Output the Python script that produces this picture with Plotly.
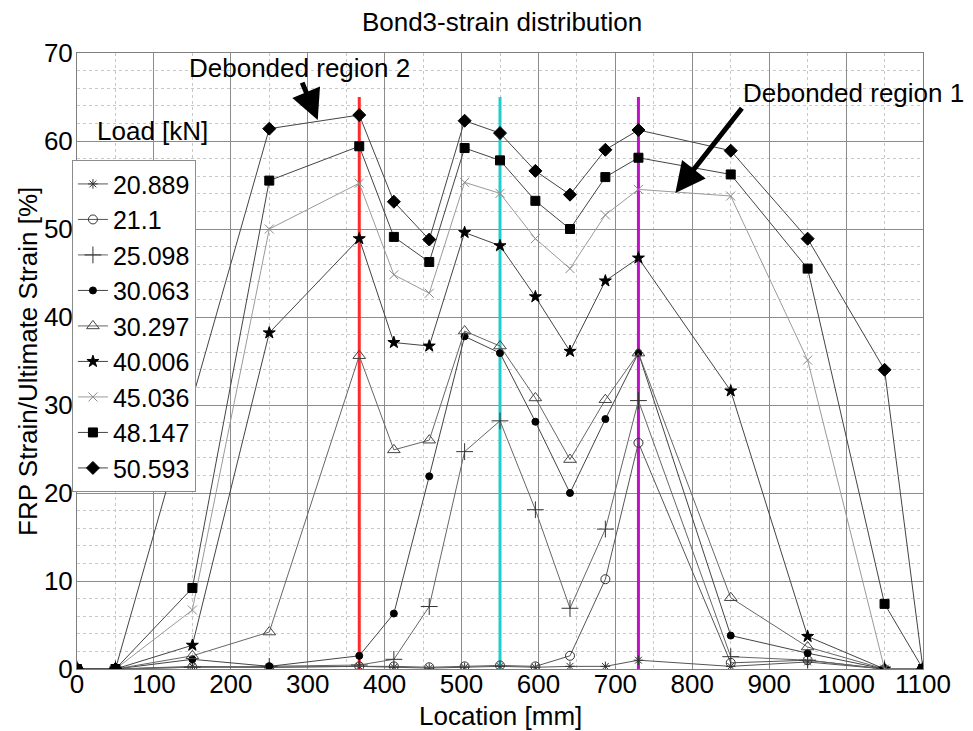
import plotly.graph_objects as go

# ---- data ----
location = [0, 50, 150, 250, 367, 412, 458, 504, 550, 596, 641, 687, 730, 850, 950, 1050, 1100]

load_labels = ["20.889", "21.1", "25.098", "30.063", "30.297", "40.006", "45.036", "48.147", "50.593"]

s_20889 = [0, 0, 0.3, 0.2, 0.3, 0.2, 0.1, 0.2, 0.3, 0.2, 0.3, 0.3, 1.0, 0.3, 0.8, 0, 0]
s_21_1 = [0, 0, 0.2, 0.2, 0.3, 0.3, 0.2, 0.3, 0.4, 0.3, 1.5, 10.2, 25.7, 0.7, 1.0, 0, 0]
s_25098 = [0, 0, 0.2, 0.3, 0.45, 1.1, 7.1, 24.7, 28.2, 18.1, 6.9, 15.9, 30.5, 1.4, 1.0, 0, 0]
s_30063 = [0, 0, 1.1, 0.3, 1.5, 6.3, 21.9, 37.8, 35.9, 28.1, 20.0, 28.4, 35.9, 3.8, 1.8, 0, 0]
s_30297 = [0, 0, 1.5, 4.2, 35.6, 24.9, 26.0, 38.4, 36.7, 30.8, 23.8, 30.6, 35.9, 8.1, 2.5, 0, 0]
s_40006 = [0, 0, 2.7, 38.2, 48.9, 37.1, 36.7, 49.6, 48.1, 42.3, 36.1, 44.1, 46.7, 31.6, 3.7, 0, 0]
s_45036 = [0, 0, 6.7, 50.0, 55.2, 44.8, 42.7, 55.3, 54.05, 48.9, 45.5, 51.6, 54.5, 53.75, 35.1, 0, 0]
s_48147 = [0, 0, 9.2, 55.5, 59.4, 49.1, 46.25, 59.2, 57.8, 53.2, 50.0, 55.9, 58.1, 56.2, 45.5, 7.4, 0]
s_50593 = [0, 0, None, 61.4, 62.95, 53.1, 48.8, 62.3, 60.9, 56.6, 53.9, 59.0, 61.25, 58.9, 48.9, 34.0, 0]

series_values = [s_20889, s_21_1, s_25098, s_30063, s_30297, s_40006, s_45036, s_48147, s_50593]

# marker lines (gauge positions)
marker_line_x = [367, 550, 730]
marker_line_colors = ["#ff2a2a", "#22cccc", "#c010c8"]
marker_line_range = [0, 65]

# ---- styles ----
symbols = ["asterisk-open", "circle-open", "cross-thin-open", "circle", "triangle-up-open",
           "star", "x-thin-open", "square", "diamond"]
sizes = [8, 9, 12, 7, 11, 9, 9, 9, 10]
line_colors = ["#555555", "#555555", "#666666", "#444444", "#666666",
               "#444444", "#9a9a9a", "#444444", "#444444"]
marker_colors = ["#333333", "#333333", "#333333", "#000000", "#444444",
                 "#000000", "#8a8a8a", "#000000", "#000000"]

FONT = "Liberation Sans, Arial, sans-serif"

fig = go.Figure()

for xv, col in zip(marker_line_x, marker_line_colors):
    fig.add_trace(go.Scatter(x=[xv, xv], y=marker_line_range, mode="lines",
                             line=dict(color=col, width=3), showlegend=False,
                             hoverinfo="skip"))

for name, vals, sym, sz, lc, mc in zip(load_labels, series_values, symbols, sizes,
                                        line_colors, marker_colors):
    fig.add_trace(go.Scatter(
        x=location, y=vals, name=name, mode="lines+markers", connectgaps=True,
        line=dict(color=lc, width=1),
        marker=dict(symbol=sym, size=sz, color=mc, line=dict(color=mc, width=1)),
    ))

fig.add_annotation(x=313, y=62.4, ax=292, ay=66.8, xref="x", yref="y", axref="x", ayref="y",
                   showarrow=True, arrowhead=2, arrowwidth=5, arrowsize=1.2,
                   arrowcolor="black", text="")
fig.add_annotation(x=778, y=54.1, ax=866, ay=63.9, xref="x", yref="y", axref="x", ayref="y",
                   showarrow=True, arrowhead=2, arrowwidth=5, arrowsize=1.2,
                   arrowcolor="black", text="")
fig.add_annotation(x=289, y=68.3, xref="x", yref="y", text="Debonded region 2",
                   showarrow=False, font=dict(size=26, color="black", family=FONT))
fig.add_annotation(x=1010, y=65.4, xref="x", yref="y", text="Debonded region 1",
                   showarrow=False, font=dict(size=26, color="black", family=FONT))
fig.add_annotation(x=0.021, y=0.873, xref="paper", yref="paper", xanchor="left",
                   yanchor="middle", text="Load [kN]", showarrow=False,
                   font=dict(size=26, color="black", family=FONT))
# axis titles
fig.add_annotation(x=0.5, y=-0.0763, xref="paper", yref="paper", xanchor="center",
                   yanchor="middle", text="Location [mm]", showarrow=False,
                   font=dict(size=26, color="black", family=FONT))
fig.add_annotation(x=-0.058, y=0.5, xref="paper", yref="paper", xanchor="center",
                   yanchor="middle", text="FRP Strain/Ultimate Strain [%]", showarrow=False,
                   textangle=-90, font=dict(size=26, color="black", family=FONT))

axis_common = dict(
    showline=True, linecolor="#808080", linewidth=1, mirror=True,
    showgrid=True, gridcolor="#8c8c8c", gridwidth=1,
    ticks="", tickfont=dict(size=26, color="black", family=FONT),
    zeroline=False, automargin=False,
)

# the page adds an 8px body margin, so the figure is sized/offset to compensate
fig.update_layout(
    width=965, height=723,
    margin=dict(l=69, r=50, t=45, b=62),
    paper_bgcolor="white", plot_bgcolor="white",
    title=dict(text="Bond3-strain distribution", x=0.512, xanchor="center",
               y=0.981, yanchor="middle",
               font=dict(size=26, color="black", family=FONT)),
    font=dict(family=FONT, color="black"),
    xaxis=dict(range=[0, 1100], dtick=100, tick0=0, ticklabelstandoff=-8,
               minor=dict(dtick=50, showgrid=True, gridcolor="#c8c8c8", griddash="dot",
                          gridwidth=1),
               **axis_common),
    yaxis=dict(range=[0, 70], dtick=10, tick0=0, ticklabelstandoff=-2,
               minor=dict(dtick=2, showgrid=True, gridcolor="#c8c8c8", griddash="dot",
                          gridwidth=1),
               **axis_common),
    legend=dict(x=-0.006, y=0.826, xanchor="left", yanchor="top",
                bgcolor="white", bordercolor="#8c8c8c", borderwidth=1,
                font=dict(size=25, color="black", family=FONT),
                tracegroupgap=0, itemsizing="trace"),
    showlegend=True,
)

fig.write_html("out.html")
